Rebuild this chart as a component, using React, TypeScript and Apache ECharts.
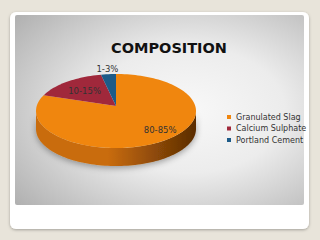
import React, { useEffect, useRef } from "react";
import * as echarts from "echarts";

const categories = ["Granulated Slag", "Calcium Sulphate", "Portland Cement"];
const values = [82, 15, 3];
const sliceLabels = ["80-85%", "10-15%", "1-3%"];
const titleText = "COMPOSITION";

const colors = ["#f0860e", "#a0283b", "#1d5b88"];
const sideStops = [
  ["#c96c0c", "#5a2c03"],
  ["#7a1d2b", "#4a0f18"],
  ["#154468", "#0b2a44"],
];

const CX = 116;
const CY = 111;
const RX = 80;
const RY = 37;
const DEPTH = 18;
const VOFF = -5;
const labelR = [0.75, 0.6, 1.14];
const labelShift = [
  [12, -4],
  [-2, -2],
  [0, 0],
];
const FONT = "'DejaVu Sans', Verdana, sans-serif";

function arc(a0: number, a1: number, dy: number): number[][] {
  const pts: number[][] = [];
  const n = Math.max(2, Math.ceil(((a1 - a0) / (Math.PI * 2)) * 180));
  for (let k = 0; k <= n; k++) {
    const a = a0 + ((a1 - a0) * k) / n;
    pts.push([CX + RX * Math.sin(a), CY - RY * Math.cos(a) + dy]);
  }
  return pts;
}

function makeRender(i: number) {
  return function renderItem(_params: any, _api: any) {
    const total = values.reduce((s, v) => s + v, 0);
    let before = 0;
    for (let k = 0; k < i; k++) before += values[k];
    const a0 = (before / total) * Math.PI * 2;
    const a1 = ((before + values[i]) / total) * Math.PI * 2;
    const children: any[] = [];
    const s0 = Math.max(a0, Math.PI / 2);
    const s1 = Math.min(a1, (Math.PI * 3) / 2);
    if (s1 > s0) {
      const topArc = arc(s0, s1, 0);
      const botArc = arc(s0, s1, DEPTH).reverse();
      children.push({
        type: "polygon",
        shape: { points: topArc.concat(botArc) },
        style: {
          fill: {
            type: "linear",
            x: CX - RX,
            y: 0,
            x2: CX + RX,
            y2: 0,
            global: true,
            colorStops: [
              { offset: 0, color: sideStops[i][0] },
              { offset: 0.45, color: sideStops[i][0] },
              { offset: 1, color: sideStops[i][1] },
            ],
          },
          shadowBlur: 6,
          shadowColor: "rgba(0,0,0,0.35)",
          shadowOffsetY: 2,
        },
      });
    }
    children.push({
      type: "polygon",
      shape: { points: [[CX, CY + VOFF]].concat(arc(a0, a1, 0)) },
      style: { fill: colors[i] },
    });
    const mid = (a0 + a1) / 2;
    children.push({
      type: "text",
      style: {
        text: sliceLabels[i],
        x: CX + RX * labelR[i] * Math.sin(mid) + labelShift[i][0],
        y: CY - RY * labelR[i] * Math.cos(mid) + labelShift[i][1],
        fill: "#333333",
        fontSize: 8.5,
        fontFamily: FONT,
        align: "center",
        verticalAlign: "middle",
      },
    });
    return { type: "group", children };
  };
}

export default function App() {
  const ref = useRef<HTMLDivElement>(null);
  useEffect(() => {
    if (!ref.current) return;
    const chart = echarts.init(ref.current, null, { renderer: "svg" });
    chart.setOption({
      animation: false,
      backgroundColor: "#e8e4da",
      graphic: [
        {
          type: "rect",
          z: -10,
          shape: { x: 10, y: 12, width: 299, height: 217, r: 6 },
          style: {
            fill: "#ffffff",
            shadowBlur: 3,
            shadowColor: "rgba(0,0,0,0.3)",
            shadowOffsetY: 1,
          },
        },
        {
          type: "rect",
          z: -9,
          shape: { x: 15, y: 15, width: 289, height: 190, r: 2 },
          style: {
            fill: {
              type: "radial",
              x: 0.6,
              y: 0.5,
              r: 0.95,
              colorStops: [
                { offset: 0, color: "#f8f8f8" },
                { offset: 0.35, color: "#ececec" },
                { offset: 1, color: "#999999" },
              ],
            },
          },
        },
        {
          type: "text",
          z: 5,
          style: {
            text: titleText,
            x: 169,
            y: 48,
            fill: "#111111",
            fontSize: 14.5,
            fontWeight: "bold",
            fontFamily: FONT,
            align: "center",
            verticalAlign: "middle",
          },
        },
      ],
      legend: {
        orient: "vertical",
        left: 222,
        top: 107,
        icon: "rect",
        itemWidth: 4,
        itemHeight: 4,
        itemGap: 1.5,
        selectedMode: false,
        data: categories,
        textStyle: {
          fontSize: 8,
          lineHeight: 10,
          color: "#333333",
          fontFamily: FONT,
        },
      },
      series: categories.map((name, i) => ({
        type: "custom",
        name,
        coordinateSystem: "none",
        color: colors[i],
        renderItem: makeRender(i),
        data: [[values[i]]],
      })),
    });
    return () => chart.dispose();
  }, []);
  return (
    <div
      ref={ref}
      style={{ position: "fixed", left: 0, top: 0, width: 320, height: 240 }}
    />
  );
}
